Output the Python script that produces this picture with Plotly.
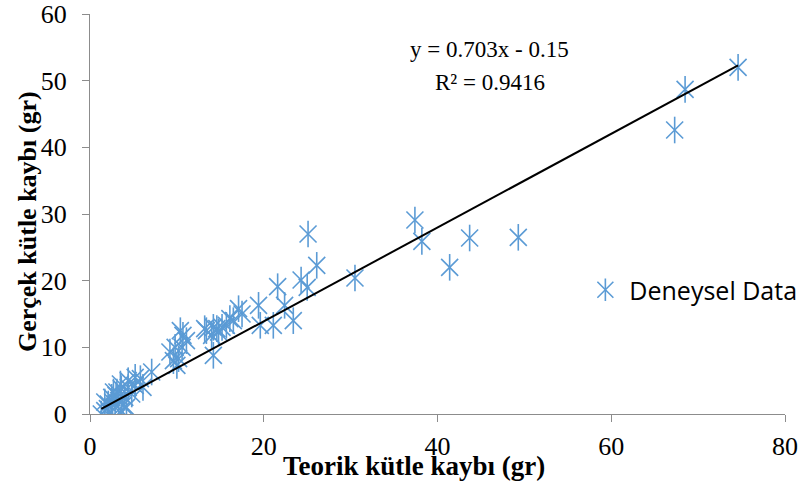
import numpy as np
import plotly.graph_objects as go

# Data
teorik = [1.3, 1.7, 2.3, 1.7, 2.1, 2.5, 2.7, 2.9, 3.1, 3.3, 3.5, 3.6, 3.6, 3.8, 4.0, 4.2, 4.4, 4.4,
          4.8, 5.2, 5.2, 5.8, 6.1, 2.0, 3.0, 2.6,
          7.1, 9.2, 9.6, 9.8, 10.2, 10.4, 10.6, 10.7, 11.1, 10.0,
          13.2, 13.4, 14.0, 14.2, 14.6, 14.8, 15.2, 14.2, 15.7, 16.1, 16.5, 17.1, 17.5,
          19.4, 19.6, 21.1, 22.4, 23.4, 21.6, 24.3, 25.0, 25.1, 26.1, 30.5,
          37.4, 38.2, 41.4, 43.7, 49.3, 67.3, 68.5, 74.6]
gercek = [0.0, 0.5, 0.2, 1.8, 1.5, 2.5, 3.3, 1.0, 3.3, 2.0, 4.5, 3.8, 0.5, 1.3, 2.5, 1.0, 4.0, 5.0,
          3.0, 4.3, 5.5, 5.3, 4.0, 0.8, 2.8, 1.8,
          6.3, 9.3, 8.0, 10.0, 8.3, 12.5, 10.0, 11.8, 11.0, 7.3,
          12.8, 12.5, 11.8, 13.0, 12.8, 12.3, 13.0, 8.8, 13.3, 14.3, 14.0, 15.8, 15.0,
          16.3, 13.3, 13.3, 16.3, 14.0, 19.1, 20.1, 19.0, 27.0, 22.3, 20.4,
          29.1, 25.9, 22.0, 26.4, 26.5, 42.6, 48.7, 52.0]

slope = 0.703
intercept = -0.15
equation_text = "y = 0.703x - 0.15"
r2_text = "R² = 0.9416"

x_ticks = [0, 20, 40, 60, 80]
y_ticks = [0, 10, 20, 30, 40, 50, 60]

blue = "rgb(91,155,213)"
serif = "Liberation Serif"

fig = go.Figure()

trend_x = np.array([min(teorik), max(teorik)])
trend_y = slope * trend_x + intercept

fig.add_trace(go.Scatter(x=teorik, y=gercek, mode="markers", name="Deneysel Data",
                         marker=dict(symbol="x-thin-open", size=17, color=blue,
                                     line=dict(color=blue, width=1.6)),
                         legend="legend"))
fig.add_trace(go.Scatter(x=teorik, y=gercek, mode="markers", name="Deneysel Data",
                         marker=dict(symbol="line-ns-open", size=19, color=blue,
                                     line=dict(color=blue, width=1.6)),
                         legend="legend2"))
fig.add_trace(go.Scatter(x=trend_x, y=trend_y, mode="lines", showlegend=False,
                         line=dict(color="black", width=2)))

axis_common = dict(showgrid=False, zeroline=False, showline=True, linecolor="#8c8c8c",
                   linewidth=1, ticks="outside", ticklen=7, tickcolor="#8c8c8c",
                   automargin=False, ticklabeloverflow="allow",
                   tickfont=dict(family=serif, size=26, color="black"))

fig.update_xaxes(range=[0, 80], tickvals=x_ticks, ticklabelstandoff=2, **axis_common)
fig.update_yaxes(range=[0, 60], tickvals=y_ticks, ticklabelstandoff=10, **axis_common)

legend_common = dict(x=0.707, y=0.31, xanchor="left", yanchor="middle",
                     bgcolor="rgba(0,0,0,0)", itemsizing="trace", itemwidth=38,
                     font=dict(family="Open Sans", size=25, color="black"))

fig.update_layout(
    width=801, height=486,
    margin=dict(l=90, r=16, t=14, b=72, autoexpand=False),
    plot_bgcolor="white", paper_bgcolor="white",
    legend=legend_common,
    legend2=dict(legend_common, font=dict(family="Open Sans", size=25, color="rgba(0,0,0,0)")),
    annotations=[
        dict(text=equation_text, x=0.5755, y=0.91, xref="paper", yref="paper",
             xanchor="center", yanchor="middle",
             showarrow=False, font=dict(family=serif, size=23, color="black")),
        dict(text=r2_text, x=0.5755, y=0.83, xref="paper", yref="paper",
             xanchor="center", yanchor="middle",
             showarrow=False, font=dict(family=serif, size=23, color="black")),
        dict(text="<b>Teorik kütle kaybı (gr)</b>", x=0.466, y=-0.13, xref="paper", yref="paper",
             xanchor="center", yanchor="middle", showarrow=False,
             font=dict(family=serif, size=27, color="black")),
        dict(text="<b>Gerçek kütle kaybı (gr)</b>", x=-0.0906, y=0.48, xref="paper", yref="paper",
             xanchor="center", yanchor="middle", textangle=-90, showarrow=False,
             font=dict(family=serif, size=26, color="black")),
    ],
)

fig.write_html("out.html", config={"displayModeBar": False},
               post_script="document.body.style.margin='0';")
